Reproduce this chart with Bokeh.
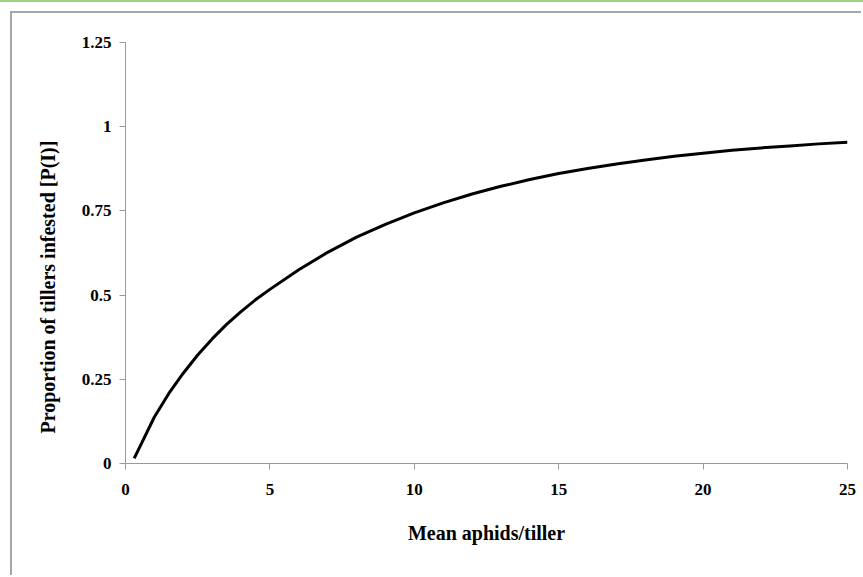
from bokeh.plotting import figure
from bokeh.models import FixedTicker, Range1d, Div, Title
from bokeh.layouts import column
from bokeh.embed import file_html
from bokeh.resources import INLINE

# Curve values
mean_aphids = [0.3, 0.5, 1, 1.5, 2, 2.5, 3, 3.5, 4, 4.5, 5, 6, 7, 8, 9, 10,
               11, 12, 13, 14, 15, 16, 17, 18, 19, 20, 21, 22, 23, 24, 25]
prop_infested = [0.015, 0.050, 0.138, 0.208, 0.268, 0.322, 0.370, 0.413,
                 0.451, 0.486, 0.517, 0.575, 0.627, 0.672, 0.710, 0.744,
                 0.774, 0.800, 0.823, 0.843, 0.861, 0.876, 0.889, 0.901,
                 0.912, 0.921, 0.930, 0.937, 0.943, 0.949, 0.954]

x_ticks = [0, 5, 10, 15, 20, 25]
y_ticks = [0, 0.25, 0.5, 0.75, 1, 1.25]
y_tick_labels = ["0", "0.25", "0.5", "0.75", "1", "1.25"]

FONT = "Liberation Serif"

p = figure(width=851, height=564, output_backend="svg", toolbar_location=None,
           x_range=Range1d(0, 25), y_range=Range1d(0, 1.25),
           min_border_left=113, min_border_right=16, min_border_top=29,
           min_border_bottom=114, margin=(9, 0, 0, 10),
           styles={"border-top": "2px solid #a6a6a6",
                   "border-left": "2px solid #a6a6a6"})

p.line(mean_aphids, prop_infested, line_color="black", line_width=3)

p.grid.visible = False
p.outline_line_color = None
p.background_fill_color = "white"
p.border_fill_color = "white"

for ax in (p.xaxis[0], p.yaxis[0]):
    ax.axis_line_color = "#999999"
    ax.axis_line_width = 1
    ax.major_tick_line_color = "#999999"
    ax.major_tick_in = 0
    ax.major_tick_out = 6
    ax.minor_tick_line_color = None
    ax.major_label_text_font = FONT
    ax.major_label_text_font_style = "bold"
    ax.major_label_text_font_size = "17px"
    ax.major_label_text_color = "black"
    ax.axis_label_text_font = FONT
    ax.axis_label_text_font_style = "bold"
    ax.axis_label_text_font_size = "20px"
    ax.axis_label_text_color = "black"

p.xaxis.ticker = FixedTicker(ticks=x_ticks)
p.yaxis.ticker = FixedTicker(ticks=y_ticks)
p.yaxis.major_label_overrides = {t: l for t, l in zip(y_ticks, y_tick_labels)}
p.xaxis.major_label_standoff = 14
p.yaxis.major_label_standoff = 8

p.xaxis.axis_label = "Mean aphids/tiller"
p.xaxis.axis_label_standoff = 24

# y-axis title as a side title, starting a little above the frame bottom
ytitle = Title(text="Proportion of tillers infested [P(I)]", align="left",
               offset=30, standoff=40, text_font=FONT,
               text_font_style="bold", text_font_size="20px",
               text_color="black")
p.add_layout(ytitle, "left")

top_rule = Div(text="", width=863, height=2, margin=0,
               styles={"background-color": "#9fd184"})

layout = column(top_rule, p, spacing=0)

open("out.html", "w").write(file_html(layout, INLINE))
